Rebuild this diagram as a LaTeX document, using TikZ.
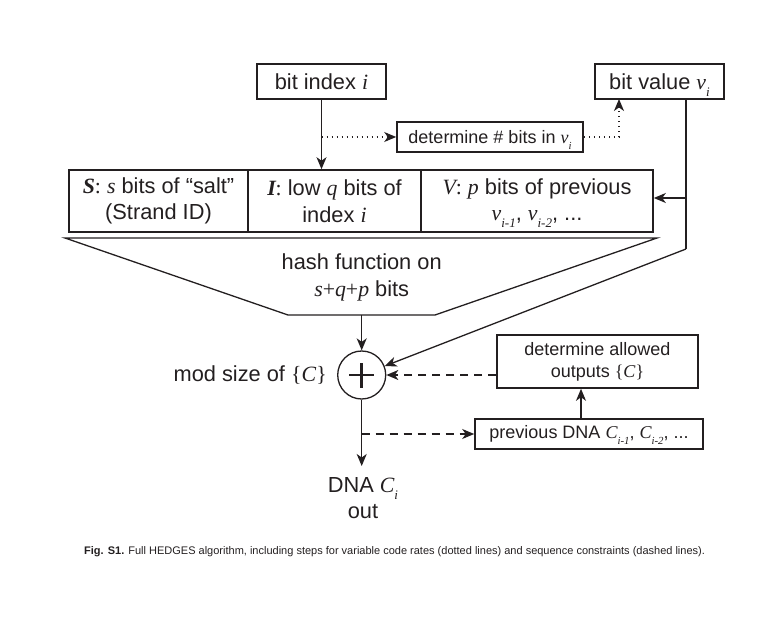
\documentclass[tikz,border=0pt]{standalone}
\usepackage{fontspec}
\usepackage{graphicx}
\setmainfont{Liberation Sans}
\newfontfamily\tms{Liberation Serif}
\usetikzlibrary{arrows.meta}
\definecolor{ink}{HTML}{231F20}
\newcommand\mv[1]{{\tms\itshape #1}}
\newcommand\mbi[1]{{\tms\bfseries\itshape #1}}
\newcommand\sub[1]{\smash{\raisebox{-0.32em}{\scalebox{0.6}{\tms\itshape #1}}}}
\newcommand\setC{{\tms\{\itshape C\/\upshape\}}}
\newcommand\bigf{\fontsize{21.8}{26.7}\selectfont}
\newcommand\smallf{\fontsize{18}{21.7}\selectfont}
\tikzset{
  box/.style={draw=ink, line width=1.6pt, rectangle, inner sep=0pt, text=ink, align=center},
  conn/.style={draw=ink, line width=1.3pt},
  arr/.style={conn, -{Stealth[length=12pt,width=10pt,inset=3.5pt]}},
  dotline/.style={dash pattern=on 1.6pt off 3.4pt},
  dashline/.style={dash pattern=on 8pt off 6pt},
  lbl/.style={text=ink, align=center, inner sep=0pt},
}
\begin{document}
\begin{tikzpicture}[x=1pt,y=-1pt]
\useasboundingbox (0,0) rectangle (773,617);
% top boxes
\node[box, minimum width=129pt, minimum height=35pt, font=\bigf] (bidx) at (321.5,81.5) {bit index \mv{i}};
\node[box, minimum width=129pt, minimum height=35pt, font=\bigf] (bval) at (659.5,81.5) {bit value \mv{v}\sub{i}};
\node[box, minimum width=186pt, minimum height=30pt, font=\smallf] (dbits) at (490,137) {determine \# bits in \mv{v}\sub{i}};
% main row
\node[box, minimum width=179pt, minimum height=62pt, font=\bigf] (cellS) at (158.5,201) {\mbi{S}{\tms :} \mv{s} bits of “salt”\\(Strand ID)};
\node[box, minimum width=173pt, minimum height=62pt, font=\bigf] (cellI) at (334.5,201) {\mbi{I}{\tms :} low \mv{q} bits of\\index \mv{i}};
\node[box, minimum width=232pt, minimum height=62pt, font=\bigf] (cellV) at (537,201) {\mv{V}{\tms :} \mv{p} bits of previous\\\mv{v}\sub{i-1}, \mv{v}\sub{i-2}, ...};
% hash trapezoid
\draw[conn] (65,238) -- (657,238) -- (435,315) -- (288,315) -- cycle;
\coordinate (hbot) at (361.7,315);
\node[lbl, font=\bigf] (hash) at (361.7,277.5) {hash function on\\\mv{s}{\tms +}\mv{q}{\tms +}\mv{p} bits};
% mod circle
\node[draw=ink, line width=1.3pt, circle, minimum size=48pt, inner sep=0pt] (circ) at (361.7,375) {};
\draw[ink, line width=2.6pt] ([xshift=-12.5pt]circ.center) -- ([xshift=12.5pt]circ.center);
\draw[ink, line width=2.6pt] ([yshift=-12.5pt]circ.center) -- ([yshift=12.5pt]circ.center);
\node[lbl, font=\bigf, anchor=east] (modtxt) at (327,375) {mod size of \setC};
% right boxes
\node[box, minimum width=201pt, minimum height=53pt, font=\smallf] (dall) at (597.5,361.5) {determine allowed\\outputs \setC};
\node[box, minimum width=228pt, minimum height=30pt, font=\smallf] (prev) at (589,434) {previous DNA \mv{C}\sub{i-1}, \mv{C}\sub{i-2}, ...};
% output
\coordinate (outtip) at (361.7,466);
\node[lbl, font=\bigf] (dna) at (363,498) {DNA \mv{C}\sub{i}\\out};
% connectors
\draw[arr] (bidx.south) -- (bidx.south |- cellI.north);
\coordinate (dotstart) at (321.5,137);
\draw[conn, dotline, -{Stealth[length=12pt,width=10pt,inset=3.5pt]}] (dotstart) -- (dbits.west);
\coordinate (bvdot) at (619,99);
\draw[conn, dotline, -{Stealth[length=12pt,width=10pt,inset=3.5pt]}] (dbits.east) -| (bvdot);
\coordinate (bvtop) at (686,99);
\coordinate (bvbend) at (686,249);
\coordinate (bvbranch) at (686,198);
\draw[conn] (bvtop) -- (bvbend);
\draw[arr] (bvbend) -- (circ);
\draw[arr] (bvbranch) -- (bvbranch -| cellV.east);
\draw[arr] (hbot) -- (circ.north);
\draw[arr, dashline] (dall.west |- circ.center) -- (circ.east);
\coordinate (prevup) at (581,419);
\draw[arr] (prevup) -- (prevup |- dall.south);
\draw[arr] (circ.south) -- (outtip);
\coordinate (dashstart) at (361.7,434);
\draw[arr, dashline] (dashstart) -- (prev.west);
% caption
\node[anchor=west, inner sep=0pt, text=ink, font=\fontsize{11}{13}\selectfont] (cap) at (84,552) {\textbf{Fig. S1.} Full HEDGES algorithm, including steps for variable code rates (dotted lines) and sequence constraints (dashed lines).};
\end{tikzpicture}
\end{document}
